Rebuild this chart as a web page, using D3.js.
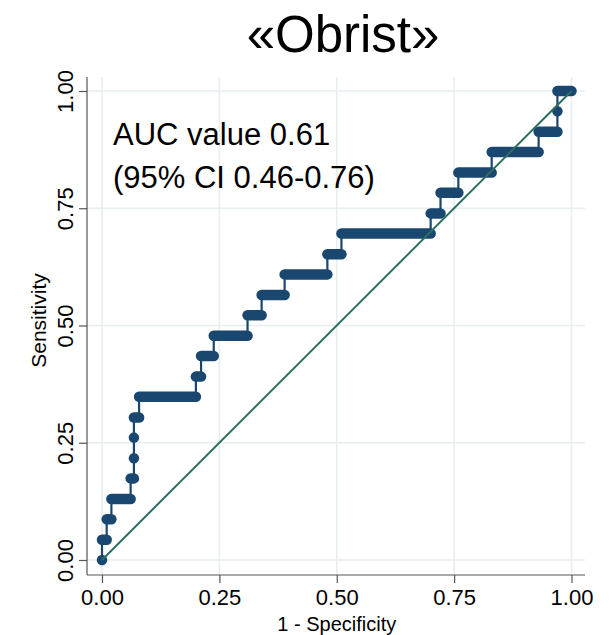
<!DOCTYPE html>
<html>
<head>
<meta charset="utf-8">
<script src="https://cdn.jsdelivr.net/npm/d3@7"></script>
<style>
  html, body { margin: 0; padding: 0; background: #ffffff; }
  svg { display: block; }
  text { font-family: "Liberation Sans", Arial, sans-serif; fill: #000; }
</style>
</head>
<body>
<svg id="chart" width="616" height="635"></svg>
<script>
// ---- data ----
const title = "«Obrist»";
const annotation = ["AUC value 0.61", "(95% CI 0.46-0.76)"];
const xTicks = [0, 0.25, 0.5, 0.75, 1];
const yTicks = [0, 0.25, 0.5, 0.75, 1];
const xLabel = "1 - Specificity";
const yLabel = "Sensitivity";
// sensitivity levels of the ROC steps
const sensitivity = [0.000, 0.043, 0.087, 0.130, 0.174, 0.217, 0.261, 0.304, 0.348, 0.391, 0.435, 0.478,
                     0.522, 0.565, 0.609, 0.652, 0.696, 0.739, 0.783, 0.826, 0.870, 0.913, 0.957, 1.000];
// 1 - specificity where each sensitivity level ends (it starts where the previous one ends)
const fprEnd = [0.000, 0.010, 0.020, 0.061, 0.068, 0.068, 0.068, 0.079, 0.200, 0.211, 0.238, 0.310,
                0.340, 0.389, 0.480, 0.510, 0.700, 0.721, 0.759, 0.830, 0.930, 0.970, 0.970, 1.000];

// ---- layout ----
const svg = d3.select("#chart");
const x = d3.scaleLinear().domain([0, 1]).range([102, 571.5]);
const y = d3.scaleLinear().domain([0, 1]).range([560, 91]);
const plotLeft = 87, plotRight = 585, plotTop = 77, plotBottom = 575;

const navy = "#1a476f";
const refColor = "#2e6e62";
const gridColor = "#e6eef0";

// gridlines
svg.append("g").selectAll("line").data(yTicks).join("line")
  .attr("x1", plotLeft).attr("x2", plotRight)
  .attr("y1", d => y(d)).attr("y2", d => y(d))
  .attr("stroke", gridColor).attr("stroke-width", 1.6);
svg.append("g").selectAll("line").data(xTicks).join("line")
  .attr("y1", plotTop).attr("y2", plotBottom)
  .attr("x1", d => x(d)).attr("x2", d => x(d))
  .attr("stroke", gridColor).attr("stroke-width", 1.6);

// axes
const xAxis = d3.axisBottom(x).tickValues(xTicks).tickFormat(d3.format(".2f")).tickSize(8).tickSizeOuter(0);
const gx = svg.append("g").attr("transform", `translate(0,${plotBottom})`).call(xAxis);
gx.select(".domain").attr("d", `M${plotLeft},0H${plotRight}`).attr("stroke", "#555").attr("stroke-width", 1.2);
gx.selectAll(".tick line").attr("stroke", "#555").attr("stroke-width", 1.2);
gx.selectAll(".tick text").attr("font-size", 22).attr("y", 10).attr("dy", "0.9em")
  .attr("font-family", "Liberation Sans, Arial, sans-serif").attr("fill", "#000");

const yAxis = d3.axisLeft(y).tickValues(yTicks).tickFormat(d3.format(".2f")).tickSize(8).tickSizeOuter(0);
const gy = svg.append("g").attr("transform", `translate(${plotLeft},0)`).call(yAxis);
gy.select(".domain").attr("d", `M0,${plotTop}V${plotBottom}`).attr("stroke", "#555").attr("stroke-width", 1.2);
gy.selectAll(".tick line").attr("stroke", "#555").attr("stroke-width", 1.2);
gy.selectAll(".tick text")
  .attr("font-size", 22).attr("font-family", "Liberation Sans, Arial, sans-serif").attr("fill", "#000")
  .attr("x", null).attr("dy", null)
  .attr("text-anchor", "middle")
  .attr("transform", "translate(-14,0) rotate(-90)");

// axis titles
svg.append("text").attr("x", x(0.5)).attr("y", 631).attr("text-anchor", "middle")
  .attr("font-size", 20).text(xLabel);
svg.append("text").attr("transform", `translate(46,${y(0.5) - 5}) rotate(-90)`).attr("text-anchor", "middle")
  .attr("font-size", 21).text(yLabel);

// title
svg.append("text").attr("x", 343).attr("y", 52).attr("text-anchor", "middle")
  .attr("font-size", 51).text(title);

// ROC steps
const runs = sensitivity.map((s, i) => ({ s, x0: i === 0 ? 0 : fprEnd[i - 1], x1: fprEnd[i] }));
const pts = [];
runs.forEach(r => { pts.push([r.x0, r.s]); pts.push([r.x1, r.s]); });
svg.append("path")
  .attr("d", d3.line().x(d => x(d[0])).y(d => y(d[1]))(pts))
  .attr("fill", "none").attr("stroke", navy).attr("stroke-width", 2.2);
svg.append("g").selectAll("line").data(runs).join("line")
  .attr("x1", d => x(d.x0)).attr("x2", d => x(d.x1))
  .attr("y1", d => y(d.s)).attr("y2", d => y(d.s))
  .attr("stroke", navy).attr("stroke-width", 10.5).attr("stroke-linecap", "round");

// reference line drawn over markers
svg.append("line")
  .attr("x1", x(0)).attr("y1", y(0)).attr("x2", x(1)).attr("y2", y(1))
  .attr("stroke", refColor).attr("stroke-width", 2);

// annotation
svg.append("text").attr("x", 113).attr("y", 145).attr("font-size", 31).text(annotation[0]);
svg.append("text").attr("x", 113).attr("y", 188).attr("font-size", 31).text(annotation[1]);
</script>
</body>
</html>
